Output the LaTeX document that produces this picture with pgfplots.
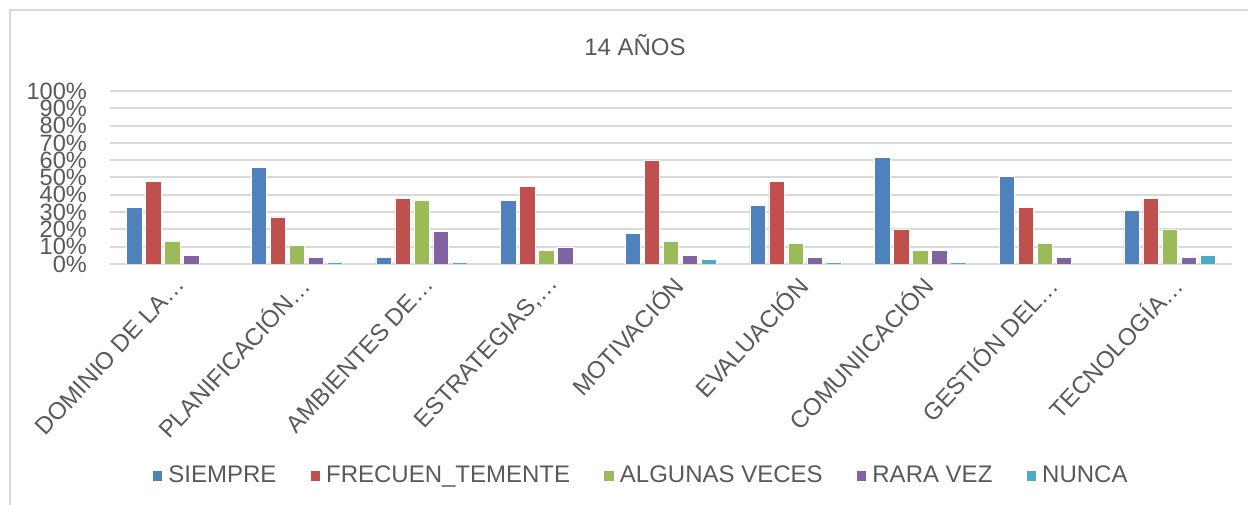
\documentclass[border=0pt]{standalone}
\usepackage{pgfplots}
\pgfplotsset{compat=1.18}
\usepackage{fontspec}
\setmainfont{Liberation Sans}

\definecolor{cSiempre}{HTML}{4F81BD}
\definecolor{cFrec}{HTML}{C0504D}
\definecolor{cAlgunas}{HTML}{9BBB59}
\definecolor{cRara}{HTML}{8064A2}
\definecolor{cNunca}{HTML}{4BACC6}
\definecolor{txtgray}{HTML}{595959}
\definecolor{gridgray}{HTML}{D9D9D9}

\begin{document}
\begin{tikzpicture}
\path[use as bounding box] (0,0) rectangle (624bp,252.5bp);
\draw[gridgray, line width=1bp] (5bp,0) -- (5bp,247.5bp) -- (624bp,247.5bp);
\node[text=txtgray, font=\fontsize{12bp}{14bp}\selectfont] at (317.5bp,230bp) {14 AÑOS};

\begin{axis}[
  at={(55bp,120.5bp)}, anchor=south west,
  scale only axis, width=561bp, height=86.5bp,
  ybar=1.8bp, bar width=7.7bp,
  xmin=-0.5, xmax=8.5, ymin=0, ymax=100,
  xtick={0,...,8},
  xticklabels={DOMINIO DE LA…, PLANIFICACIÓN…, AMBIENTES DE…, {ESTRATEGIAS,…}, MOTIVACIÓN, EVALUACIÓN, COMUNIICACIÓN, GESTIÓN DEL…, TECNOLOGÍA…},
  ytick={0,10,...,100},
  yticklabels={0\%,10\%,20\%,30\%,40\%,50\%,60\%,70\%,80\%,90\%,100\%},
  ymajorgrids, grid style={gridgray, line width=1bp},
  axis line style={draw=none},
  major tick style={draw=none},
  tick label style={text=txtgray},
  yticklabel style={font=\fontsize{11.8bp}{12bp}\selectfont, xshift=-8bp},
  xticklabel style={font=\fontsize{12bp}{14bp}\selectfont, xshift=6bp, yshift=-1.5bp, rotate=47, anchor=east},
  legend columns=5,
  legend style={draw=none, fill=none, at={(0.4742,-1.2254)}, anchor=center,
    font=\fontsize{12bp}{14bp}\selectfont, text=txtgray,
    /tikz/every even column/.append style={column sep=15bp}},
  legend image code/.code={\path (0bp,0bp) -- (5.6bp,0bp);\fill[#1, draw=none] (0bp,-2.4bp) rectangle (4.6bp,2.4bp);},
]
\addplot[fill=cSiempre, draw=white, line width=0.3bp] coordinates
  {(0,32.6) (1,55.9) (2,3.9) (3,36.8) (4,17.5) (5,33.9) (6,61.5) (7,50.5) (8,31.2)};
\addplot[fill=cFrec, draw=white, line width=0.3bp] coordinates
  {(0,47.6) (1,27.2) (2,38.0) (3,44.9) (4,59.9) (5,47.6) (6,20.2) (7,32.6) (8,38.0)};
\addplot[fill=cAlgunas, draw=white, line width=0.3bp] coordinates
  {(0,13.3) (1,10.6) (2,36.8) (3,7.9) (4,13.3) (5,11.9) (6,7.9) (7,11.9) (8,20.2)};
\addplot[fill=cRara, draw=white, line width=0.3bp] coordinates
  {(0,5.2) (1,3.9) (2,18.9) (3,9.4) (4,5.2) (5,3.9) (6,7.9) (7,3.9) (8,3.9)};
\addplot[fill=cNunca, draw=white, line width=0.3bp] coordinates
  {(1,1.2) (2,1.0) (4,2.5) (5,1.0) (6,1.0) (8,5.2)};
\legend{SIEMPRE, FRECUEN\_TEMENTE, ALGUNAS VECES, RARA VEZ, NUNCA}
\end{axis}
\end{tikzpicture}
\end{document}
